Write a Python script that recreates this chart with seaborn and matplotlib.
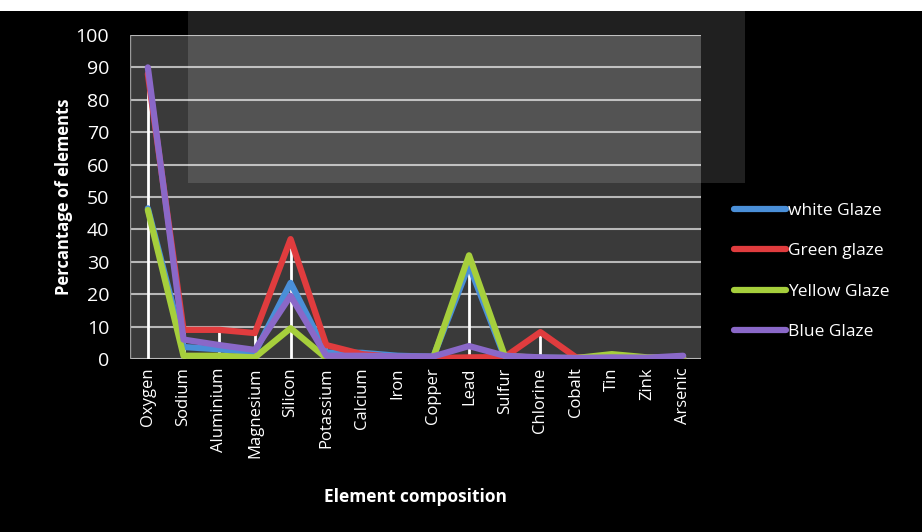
import numpy as np
import pandas as pd
import seaborn as sns
import matplotlib.pyplot as plt
from matplotlib.patches import Rectangle

# data (percent)
elements=['Oxygen','Sodium','Aluminium','Magnesium','Silicon','Potassium','Calcium','Iron',
          'Copper','Lead','Sulfur','Chlorine','Cobalt','Tin','Zink','Arsenic']
white_glaze=[46.5,3.7,3,2,23.5,2,1.9,1,0.7,29,0.5,0.4,0.3,0.4,0.3,0.4]
green_glaze=[88,9,9,8,37,4.3,1.5,0.5,0.3,0.5,0.6,8.3,0.5,0.3,0.3,0.3]
yellow_glaze=[46,1,1,0.5,9.5,0.3,0.3,0.3,0.5,32,1,0.3,0.3,1.5,0.5,0.5]
blue_glaze=[90,6,4.3,2.8,19.5,1,1,0.8,0.8,4,1,0.5,0.3,0.5,0.4,1]
series_names=['white Glaze','Green glaze','Yellow Glaze','Blue Glaze']
colors=['#4a8fd8','#e03c3e','#a6cf3c','#8a68c8']

rows=[]
for name,vals in zip(series_names,[white_glaze,green_glaze,yellow_glaze,blue_glaze]):
    for i,v in enumerate(vals):
        rows.append({'element':elements[i],'idx':i,'value':v,'glaze':name})
df=pd.DataFrame(rows)

sns.set_style('dark')
plt.rcParams['font.family']=['Open Sans','DejaVu Sans']

fig=plt.figure(figsize=(9.22,5.32),dpi=100,facecolor='black')
ax=fig.add_axes([130/922,1-359/532,571/922,324/532])
ax.set_facecolor('#3a3a3a')

# white drop lines from axis to highest point
top=np.max(np.array([white_glaze,green_glaze,yellow_glaze,blue_glaze]),axis=0)
ax.vlines(range(len(elements)),0,top,colors='white',linewidth=2,zorder=1)

sns.lineplot(data=df,x='idx',y='value',hue='glaze',palette=colors,
             linewidth=4.5,ax=ax,legend=True,sort=False,zorder=3)

ax.set_xlim(-0.5,len(elements)-0.5)
ax.set_ylim(0,100)
ax.set_yticks(range(0,101,10))
ax.set_xticks(range(len(elements)))
ax.set_xticklabels(elements,rotation=90,color='white',fontsize=12)
ax.tick_params(axis='y',colors='white',labelsize=14,length=6,color='#bbbbbb',direction='out',pad=9)
ax.tick_params(axis='x',length=0,pad=6)
ax.grid(axis='y',color='#b8b8b8',linewidth=1.5)
ax.grid(axis='x',visible=False)
for s in ax.spines.values():
    s.set_visible(False)
ax.axvline(-0.5,color='#9a9a9a',linewidth=1)

ax.set_xlabel('Element composition',color='white',fontsize=12.5,fontweight='bold',labelpad=22)
ax.set_ylabel('Percantage of elements',color='white',fontsize=12,fontweight='bold',labelpad=2)

leg=ax.legend(loc='center left',bbox_to_anchor=(1.03,0.27),frameon=False,
              labelcolor='white',fontsize=12.5,handlelength=3.0,handletextpad=0.1,labelspacing=1.4)
for h in leg.get_lines():
    h.set_linewidth(4.5)

# scanned watermark overlay and top strip
fig.patches.append(Rectangle((188/922,1-183/532),557/922,183/532,transform=fig.transFigure,
                             facecolor='white',alpha=0.13,edgecolor='none',zorder=5))
fig.patches.append(Rectangle((0,1-11/532),1,11/532,transform=fig.transFigure,
                             facecolor='white',edgecolor='none',zorder=6))

fig.savefig('out.png',dpi=100,facecolor='black')
